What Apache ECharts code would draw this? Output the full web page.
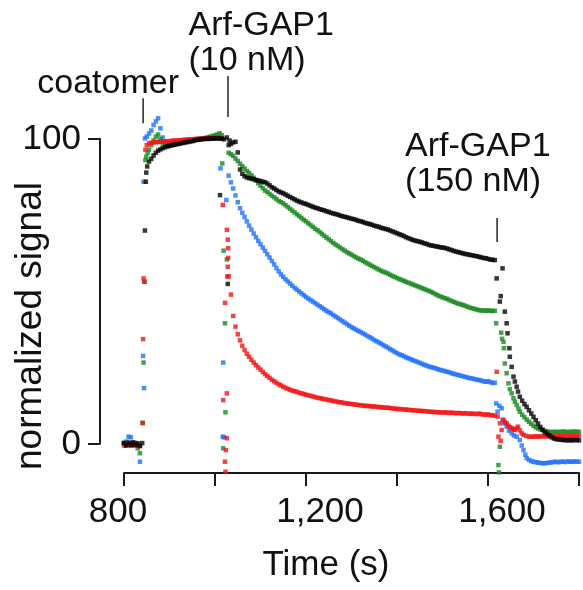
<!DOCTYPE html>
<html>
<head>
<meta charset="utf-8">
<script src="https://cdn.jsdelivr.net/npm/echarts@6/dist/echarts.min.js"></script>
<style>
  html, body { margin: 0; padding: 0; background: #ffffff; }
  #chart { width: 583px; height: 590px; }
</style>
</head>
<body>
<div id="chart"></div>
<script>
// Sampling step (s) of the regular runs; each run is [start time, values...]
const STEP = 5;

// ---- black trace ----
const blackRuns = [
  [800, [0.3, -0.5, 0.4, -0.3, 0.5, -0.4, 0.2, -0.6, 0.3]],
  [855, [92.6, 93.5, 94.6, 95.5, 96.2, 96.6, 97.0, 97.3, 97.6, 97.8, 98.0, 98.1, 98.3, 98.4, 98.6, 98.7, 98.9, 99.0, 99.2, 99.3,
         99.5, 99.7, 99.8, 99.9, 100.0, 100.1, 100.0, 100.2, 100.1, 100.2, 100.3, 100.1, 100.2, 99.9]],
  [1030, [98.0, 98.4, 98.9, 99.1, 95.6, 90.0, 88.6, 87.8, 87.4, 87.2, 87.0, 86.8, 86.6, 86.4, 86.2, 86.0, 85.8, 85.4, 84.8, 84.2,
          83.8, 83.3, 82.8, 82.5, 82.2, 81.8, 81.4, 81.0, 80.6, 80.2, 79.8, 79.5, 79.2, 78.9, 78.7, 78.4, 78.1, 77.8, 77.5, 77.3,
          77.0, 76.8, 76.6, 76.3, 76.1, 75.8, 75.6, 75.4, 75.2, 74.9, 74.7, 74.5, 74.3, 74.1, 73.9, 73.7, 73.5, 73.2, 73.0, 72.8,
          72.5, 72.3, 72.1, 71.9, 71.6, 71.4, 71.2, 70.9, 70.7, 70.5, 70.3, 70.0, 69.7, 69.4, 69.1, 68.8, 68.5, 68.2, 67.8, 67.5,
          67.2, 66.9, 66.7, 66.5, 66.3, 66.1, 65.8, 65.6, 65.3, 65.1, 65.0, 64.8, 64.7, 64.5, 64.4, 64.3, 64.1, 63.8, 63.6, 63.3,
          63.1, 62.9, 62.7, 62.5, 62.3, 62.2, 62.0, 61.9, 61.7, 61.6, 61.4, 61.2, 61.0, 60.9, 60.7, 60.5, 60.4, 60.3]],
  [1675, [14.2, 13.1, 12.2, 11.1, 10.0, 8.9, 7.8, 6.7, 5.6, 4.7, 3.9, 3.4, 2.8, 2.2, 1.8, 1.6, 1.5, 1.4, 1.3, 1.3,
          1.2, 1.3, 1.2, 1.3, 1.3, 1.2]]
];
const blackMixing = [
  [846, 70.0], [848, 86.0], [849, 89.0], [851, 91.0],
  [1011, 81.6], [1026, 100.5], [1028, 52.5], [1032, 99.5],
  [1619, 54.3], [1626, 46.7], [1628, 48.5], [1632, 57.6], [1637, 43.4], [1641, 39.6], [1643, 36.3], [1647, 31.4],
  [1648, 28.6], [1652, 25.3], [1656, 22.1], [1659, 20.5], [1663, 18.8], [1666, 17.2], [1670, 15.5]
];

// ---- green trace ----
const greenRuns = [
  [800, [0.3, -0.3, 0.4, 0.0, -0.4, 0.2, -1.4, -3.0]],
  [855, [96.5, 98.0, 99.5, 100.8, 101.5, 100.0, 98.5, 97.8, 97.6, 97.7, 98.0, 98.2, 98.4, 98.6, 98.8, 99.0, 99.1, 99.2, 99.4, 99.5,
         99.7, 99.8, 99.9, 100.1, 100.2, 100.4, 100.6, 100.8, 101.0, 101.2, 101.5, 101.9, 101.3]],
  [1030, [95.5, 95.0, 94.5, 93.6, 92.8, 91.9, 91.1, 90.3, 89.5, 88.9, 88.1, 87.3, 86.4, 85.5, 84.7, 83.9, 83.1, 82.6, 82.0, 81.4,
          80.9, 80.3, 79.7, 79.3, 78.9, 78.3, 77.7, 77.1, 76.5, 75.9, 75.3, 74.7, 74.1, 73.5, 73.0, 72.4, 71.8, 71.2, 70.6, 70.1,
          69.5, 68.9, 68.3, 67.7, 67.1, 66.5, 65.9, 65.4, 64.9, 64.4, 63.9, 63.4, 62.9, 62.5, 62.1, 61.6, 61.2, 60.8, 60.5, 60.1,
          59.6, 59.2, 58.8, 58.4, 58.0, 57.6, 57.2, 56.8, 56.5, 56.2, 55.9, 55.5, 55.1, 54.8, 54.4, 54.1, 53.8, 53.5, 53.2, 52.9,
          52.6, 52.3, 52.0, 51.7, 51.4, 51.1, 50.8, 50.5, 50.2, 49.9, 49.5, 49.1, 48.7, 48.4, 48.1, 47.8, 47.6, 47.2, 46.9, 46.6,
          46.3, 46.0, 45.8, 45.6, 45.3, 45.0, 44.7, 44.5, 44.3, 44.1, 43.9, 43.8, 43.8, 43.7, 43.8, 43.7, 43.6, 43.7]],
  [1670, [10.6, 9.6, 8.8, 8.0, 7.3, 6.6, 6.0, 5.5, 5.1, 4.8, 4.5, 4.3, 4.1, 4.0, 3.9, 4.0, 4.0, 3.9, 4.0, 4.1,
          4.0, 3.9, 4.0, 4.0, 4.1, 4.0, 4.0]]
];
const greenMixing = [
  [841, 7.0], [843, 26.7], [845, 53.2], [847, 93.1], [849, 94.2], [852, 95.5],
  [1016, 92.0], [1018, -1.4], [1019, 63.4], [1022, 39.6], [1023, 10.4], [1026, 60.5],
  [1618, 39.6], [1623, -6.9], [1624, -9.3], [1626, -0.9], [1629, 36.5], [1631, 34.5], [1634, 33.5], [1635, 31.4],
  [1637, 26.4], [1641, 23.2], [1645, 19.9], [1648, 18.0], [1652, 16.6], [1656, 15.0], [1659, 13.9], [1663, 12.8], [1667, 11.6]
];

// ---- blue trace ----
const blueRuns = [
  [800, [0.4, 0.8, 2.4, 2.2, 0.5, 0.1, -0.3, -5.8]],
  [850, [100.8, 101.8, 102.8, 104.6, 105.8, 106.8, 103.5, 100.5, 99.0, 98.5, 98.6, 98.8, 99.0, 99.1, 99.2, 99.3, 99.4, 99.5, 99.6, 99.7,
         99.8, 99.9, 100.0, 100.0, 100.1, 100.1, 100.2, 100.2, 100.3, 100.3, 100.4, 100.4, 100.5]],
  [1030, [88.0, 85.8, 83.8, 81.5, 79.3, 77.3, 75.8, 74.4, 73.0, 71.6, 70.3, 69.0, 67.8, 66.6, 65.5, 64.4, 63.3, 62.2, 61.1, 60.0,
          58.9, 57.7, 56.6, 55.6, 54.8, 54.0, 53.3, 52.6, 51.9, 51.2, 50.6, 50.0, 49.4, 48.8, 48.2, 47.7, 47.2, 46.7, 46.2, 45.7,
          45.2, 44.7, 44.2, 43.7, 43.2, 42.8, 42.3, 41.8, 41.3, 40.8, 40.3, 39.8, 39.3, 38.8, 38.3, 37.9, 37.5, 37.1, 36.7, 36.3,
          35.9, 35.4, 35.0, 34.6, 34.1, 33.7, 33.3, 32.9, 32.4, 32.0, 31.6, 31.1, 30.7, 30.2, 29.8, 29.4, 29.1, 28.8, 28.4, 28.1,
          27.8, 27.5, 27.2, 26.9, 26.6, 26.3, 26.0, 25.7, 25.4, 25.2, 25.0, 24.8, 24.5, 24.3, 24.1, 23.9, 23.7, 23.5, 23.2, 23.0,
          22.8, 22.6, 22.4, 22.2, 22.0, 21.8, 21.6, 21.5, 21.3, 21.1, 21.0, 20.8, 20.6, 20.4, 20.6, 20.3, 20.0, 20.1]],
  [1700, [-5.8, -6.0, -6.1, -6.2, -6.3, -6.3, -6.2, -6.1, -6.0, -5.9, -5.8, -6.0, -5.8, -5.8, -5.9, -5.7, -5.8, -5.8, -5.7, -5.8,
          -5.8]]
];
const blueMixing = [
  [842, 28.9], [843, 86.0], [844, 18.3], [846, 100.2],
  [1012, 90.4], [1017, 2.4], [1018, 26.7], [1020, 2.2], [1025, 80.0],
  [1618, 13.3], [1621, 10.6], [1625, 12.5], [1630, 11.7], [1632, 7.9], [1636, 6.8], [1641, 5.7], [1646, 4.4], [1652, 3.5],
  [1657, 2.8], [1663, 2.4], [1670, 1.3], [1674, -0.5], [1678, -2.0], [1682, -3.5], [1685, -4.6], [1690, -5.2], [1695, -5.6]
];

// ---- red trace ----
const redRuns = [
  [800, [-0.5, -0.2, 0.3, -0.6, -0.1, 0.4, -0.3, -0.7]],
  [850, [98.0, 98.6, 98.8, 98.9, 99.0, 99.0, 99.1, 99.1, 99.2, 99.3, 99.3, 99.4, 99.5, 99.5, 99.6, 99.6, 99.7, 99.8, 99.8, 99.9,
         99.9, 100.0, 100.0, 100.1, 100.1, 100.2, 100.2, 100.2, 100.3, 100.3, 100.3, 100.3, 100.4, 100.3]],
  [1035, [49.0, 42.0, 38.5, 36.0, 34.0, 32.2, 30.8, 29.6, 28.6, 27.6, 26.7, 25.9, 25.1, 24.4, 23.6, 22.9, 22.3, 21.7, 21.1, 20.6,
          20.1, 19.6, 19.2, 18.8, 18.4, 18.1, 17.8, 17.5, 17.3, 17.1, 16.8, 16.6, 16.4, 16.2, 16.0, 15.8, 15.6, 15.4, 15.2, 15.0,
          14.9, 14.7, 14.6, 14.4, 14.3, 14.1, 14.0, 13.8, 13.7, 13.6, 13.4, 13.3, 13.2, 13.1, 13.0, 12.9, 12.8, 12.7, 12.6, 12.5,
          12.5, 12.4, 12.3, 12.3, 12.2, 12.1, 12.1, 12.0, 11.9, 11.9, 11.8, 11.7, 11.6, 11.5, 11.5, 11.4, 11.3, 11.3, 11.2, 11.1,
          11.1, 11.0, 10.9, 10.9, 10.8, 10.8, 10.7, 10.6, 10.6, 10.5, 10.5, 10.4, 10.4, 10.3, 10.4, 10.3, 10.2, 10.3, 10.2, 10.1,
          10.2, 10.1, 10.0, 10.1, 10.0, 9.9, 10.0, 9.9, 9.8, 10.0, 9.8, 9.7, 9.6, 9.7, 9.5, 9.4, 9.3]],
  [1700, [2.4, 2.5, 2.4, 2.5, 2.6, 2.5, 2.6, 2.5, 2.6, 2.6, 2.5, 2.6, 2.6, 2.5, 2.6, 2.6, 2.5, 2.6, 2.6, 2.5,
          2.6]]
];
const redMixing = [
  [841, 6.8], [842, 34.4], [843, 54.3], [845, 53.2], [847, 96.5],
  [1017, 78.4], [1018, 14.4], [1022, 46.3], [1022, -5.8], [1023, -9.1], [1024, -2.0], [1026, 70.2], [1026, 16.6],
  [1026, 1.9], [1027, 54.9], [1028, 58.1], [1028, 67.0], [1029, 64.2], [1029, 61.0], [1030, 55.0],
  [1619, 23.7], [1621, 9.0], [1623, 2.4], [1626, 6.8], [1628, 1.0], [1630, 4.6], [1634, 7.9], [1637, 7.2], [1641, 6.8],
  [1645, 6.0], [1649, 5.5], [1652, 5.1], [1656, 4.8], [1659, 4.6], [1663, 5.2], [1666, 5.7], [1670, 4.5], [1674, 3.5],
  [1678, 3.0], [1684, 2.7], [1690, 2.4], [1695, 2.4]
];

// Axis ticks
const xTickValues = [800, 1200, 1600];
const xTickLabels = ['800', '1,200', '1,600'];
const yTickValues = [0, 100];

// Injection markers: time of addition and the vertical extent of the marker stroke (signal units)
const injections = [
  { label: 'coatomer', time: 842, top: 113.4, bottom: 105.2 },
  { label: 'Arf-GAP1\n(10 nM)', time: 1028.5, top: 120.7, bottom: 107.2 },
  { label: 'Arf-GAP1\n(150 nM)', time: 1620, top: 74.1, bottom: 66.2 }
];
// Caption placement relative to the top of each marker stroke (px)
const captionLayout = [
  { dx: -35, dy: -32, align: 'center' },
  { dx: -39.5, dy: -68, align: 'left' },
  { dx: -92, dy: -89, align: 'left' }
];

function toPoints(runs, mixing) {
  const pts = [];
  runs.forEach(function (run) {
    const start = run[0];
    run[1].forEach(function (v, i) { if (v !== null) pts.push([start + i * STEP, v]); });
  });
  mixing.forEach(function (p) { pts.push(p); });
  return pts;
}

const traces = [
  { name: 'blue', color: '#2171fb', points: toPoints(blueRuns, blueMixing) },
  { name: 'green', color: '#1a8a22', points: toPoints(greenRuns, greenMixing) },
  { name: 'red', color: '#f41414', points: toPoints(redRuns, redMixing) },
  { name: 'black', color: '#050505', points: toPoints(blackRuns, blackMixing) }
];

const FONT = 'Liberation Sans, Arial, Helvetica, sans-serif';
const INK = '#111111';
const axisStroke = { color: '#1a1a1a', width: 2 };
const tickText = { fontSize: 35, fontFamily: FONT, color: INK };

const chart = echarts.init(document.getElementById('chart'), null, { renderer: 'canvas' });

chart.setOption({
  animation: false,
  backgroundColor: '#ffffff',
  grid: [
    { left: 124, right: 4, top: 107, bottom: 117 },
    { left: 124, width: 10, top: 139, height: 305 }
  ],
  xAxis: [
    {
      gridIndex: 0, type: 'value', min: 800, max: 1800, interval: 200,
      axisLine: { show: true, onZero: false, lineStyle: axisStroke },
      axisTick: { show: true, length: 13, lineStyle: axisStroke },
      splitLine: { show: false },
      axisLabel: {
        margin: 22, fontSize: 35, fontFamily: FONT, color: INK,
        formatter: function (v) {
          const k = xTickValues.indexOf(v);
          if (k < 0) return '';
          return (k === 0 ? '{lead|' : '{wide|') + xTickLabels[k] + '}';
        },
        rich: {
          lead: Object.assign({ padding: [0, 12, 0, 0] }, tickText),
          wide: Object.assign({ padding: [0, 0, 0, 28] }, tickText)
        }
      }
    },
    { gridIndex: 1, type: 'value', show: false }
  ],
  yAxis: [
    { gridIndex: 0, type: 'value', min: -9.5, max: 110.5, show: false },
    {
      gridIndex: 1, type: 'value', min: 0, max: 100, interval: 100, offset: 24,
      axisLine: { show: true, onZero: false, lineStyle: axisStroke },
      axisTick: { show: true, length: 12, lineStyle: axisStroke },
      splitLine: { show: false },
      axisLabel: {
        margin: 19, fontSize: 35, fontFamily: FONT, color: INK,
        formatter: function (v) { return yTickValues.indexOf(v) >= 0 ? String(v) : ''; }
      }
    }
  ],
  series: traces.map(function (t) {
    return {
      name: t.name, type: 'scatter', xAxisIndex: 0, yAxisIndex: 0,
      symbol: 'rect', symbolSize: 4.5, silent: true,
      itemStyle: { color: t.color },
      data: t.points
    };
  })
});

// Injection markers and captions, positioned through the value axes
const elements = [];
injections.forEach(function (inj, i) {
  const p1 = chart.convertToPixel({ xAxisIndex: 0, yAxisIndex: 0 }, [inj.time, inj.top]);
  const p2 = chart.convertToPixel({ xAxisIndex: 0, yAxisIndex: 0 }, [inj.time, inj.bottom]);
  const lay = captionLayout[i];
  elements.push({
    type: 'line', silent: true,
    shape: { x1: p1[0], y1: p1[1], x2: p2[0], y2: p2[1] },
    style: { stroke: '#222222', lineWidth: 1.5 }
  });
  elements.push({
    type: 'text', silent: true,
    x: p1[0] + lay.dx, y: p1[1] + lay.dy,
    style: {
      text: inj.label, fontSize: 34, fontFamily: FONT, fill: INK,
      align: lay.align, verticalAlign: 'top', lineHeight: 35
    }
  });
});
elements.push({
  type: 'text', silent: true, x: 31, y: 326, rotation: Math.PI / 2,
  style: { text: 'normalized signal', fontSize: 37, fontFamily: FONT, fill: INK, align: 'center', verticalAlign: 'middle' }
});
elements.push({
  type: 'text', silent: true, x: 326, y: 565,
  style: { text: 'Time (s)', fontSize: 35, fontFamily: FONT, fill: INK, align: 'center', verticalAlign: 'middle' }
});
chart.setOption({ graphic: { elements: elements } });
</script>
</body>
</html>
